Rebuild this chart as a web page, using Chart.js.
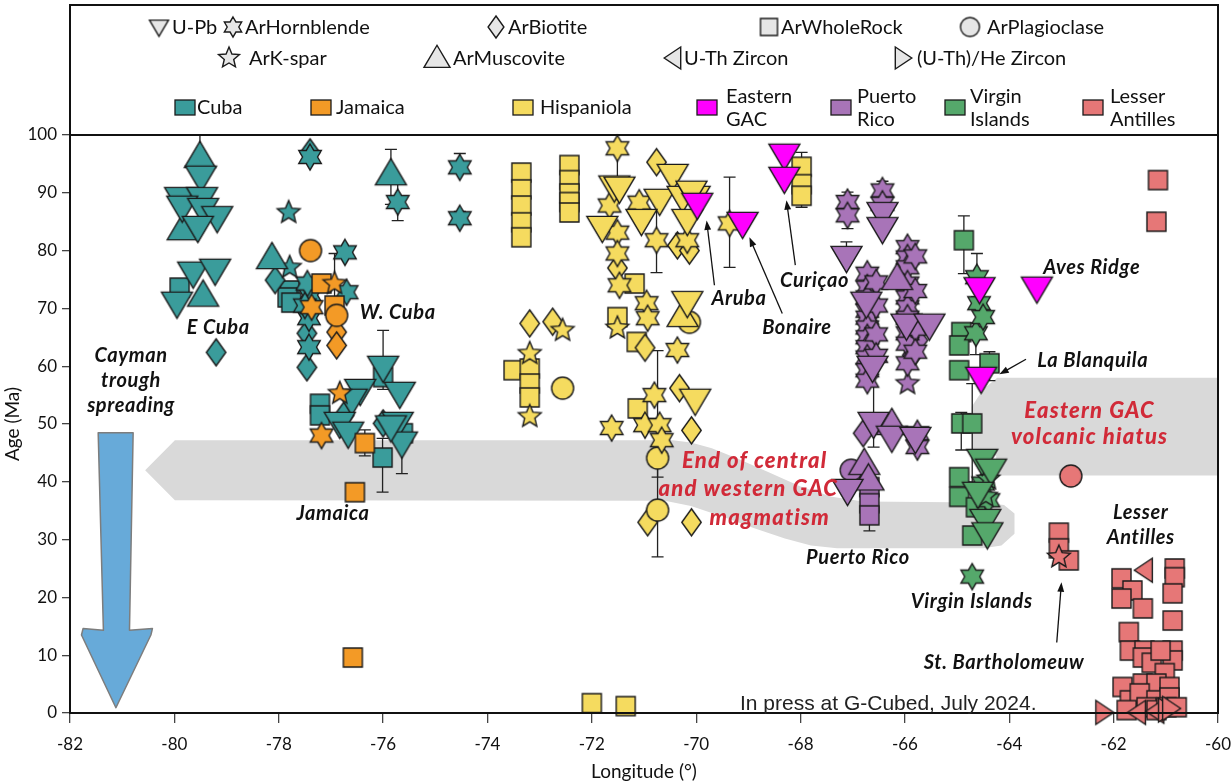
<!DOCTYPE html>
<html>
<head>
<meta charset="utf-8">
<script src="https://cdn.jsdelivr.net/npm/chart.js@4.4.1/dist/chart.umd.min.js"></script>
<style>
  html, body { margin: 0; padding: 0; background: #fff; }
  canvas { display: block; }
</style>
</head>
<body>
<canvas id="ages" width="1231" height="784"></canvas>
<script>
/* ─── Data: [longitude, age Ma] ─────────────────────────────────────────── */
// Cuba
const cubaUPb = [[-79.49,92.7],[-79.89,89.0],[-79.47,89.0],[-79.85,87.5],[-79.45,87.1],[-79.18,85.7],[-79.55,84.0],
  [-79.64,76.1],[-79.22,76.6],[-79.95,70.9],[-76.44,55.8],[-76.6,54.1],[-76.83,50.1],[-76.67,48.4],[-76.0,59.8],
  [-75.68,55.3],[-75.72,50.1],[-75.64,46.7],[-75.85,49.5]];
const cubaMusc = [[-79.51,96.3],[-79.84,83.8],[-79.45,72.3],[-78.13,78.8],[-75.85,93.3]];
const cubaHbl = [[-77.4,96.2],[-77.4,72.3],[-77.45,74.3],[-76.73,79.7],[-76.7,72.8],[-77.42,68.3],[-77.42,63.3],
  [-75.72,88.4],[-74.53,94.4],[-74.53,85.6],[-77.5,70.5]];
const cubaBio = [[-77.4,97.0],[-79.2,62.4],[-78.07,74.9],[-77.46,65.7],[-77.46,59.8],[-76.0,50.1],[-76.75,51.5]];
const cubaWR = [[-79.9,73.6],[-77.79,73.1],[-77.83,71.9],[-77.76,71.0],[-77.21,53.5],[-77.21,51.5],[-76.0,58.1],
  [-76.01,44.2],[-75.62,48.4]];
const cubaKsp = [[-77.79,77.1],[-77.81,86.6]];
// Jamaica
const jamPlag = [[-77.39,80.0],[-76.89,68.8]];
const jamWR = [[-77.18,74.3],[-76.93,70.5],[-76.35,46.7],[-76.54,38.2],[-76.58,9.6]];
const jamHbl = [[-77.37,70.2],[-77.18,48.0]];
const jamKsp = [[-76.93,74.3],[-76.83,55.3]];
const jamBio = [[-76.89,65.9],[-76.89,63.6]];
// Hispaniola
const hisWR = [[-73.35,93.5],[-73.35,90.6],[-73.35,87.8],[-73.35,84.9],[-73.35,82.3],[-72.43,94.8],[-72.43,92.2],
  [-72.43,89.9],[-72.43,88.4],[-72.43,86.6],[-73.5,59.3],[-73.19,59.6],[-73.19,57.0],[-73.19,54.6],[-71.18,74.3],
  [-71.51,68.5],[-71.14,64.2],[-71.12,52.7],[-72.0,1.7],[-71.35,1.2],[-67.98,94.5],[-67.98,91.5],[-67.98,89.5]];
const hisHbl = [[-71.51,97.7],[-71.66,87.8],[-71.09,88.3],[-71.51,83.1],[-70.76,81.8],[-70.17,81.8],[-71.51,79.5],
  [-71.47,74.0],[-70.95,70.9],[-70.93,68.3],[-70.36,62.8],[-70.8,55.0],[-71.62,49.3],[-70.98,49.8],[-70.7,49.8],
  [-70.66,47.2],[-69.36,84.7]];
const hisUPb = [[-70.45,93.0],[-71.57,91.0],[-71.47,90.8],[-70.7,88.7],[-70.26,89.2],[-70.03,89.2],[-71.05,85.2],
  [-71.8,84.0],[-70.17,85.2],[-70.17,71.0],[-70.09,90.1],[-70.02,54.1]];
const hisBio = [[-70.76,95.3],[-70.36,80.9],[-70.13,80.0],[-71.51,77.0],[-70.32,56.2],[-70.09,48.9],[-70.93,33.0],
  [-70.09,33.0],[-73.19,67.4],[-72.75,67.7],[-70.98,63.2]];
const hisPlag = [[-72.56,56.2],[-70.74,44.1],[-70.74,35.1],[-70.13,67.6]];
const hisKsp = [[-71.51,66.6],[-72.56,66.2],[-73.19,62.2],[-73.19,51.3]];
const hisMusc = [[-70.26,68.8]];
// Eastern GAC
const egacUPb = [[-69.98,88.0],[-69.11,84.7],[-68.31,96.5],[-68.31,92.5],[-64.57,73.4],[-63.47,73.5],[-64.54,57.9]];
// Puerto Rico
const prHbl = [[-67.1,88.4],[-67.1,86.1],[-66.43,90.4],[-66.43,88.1],[-66.72,76.0],[-66.72,73.6],[-66.72,71.9],
  [-66.72,69.6],[-66.72,68.4],[-66.72,66.7],[-66.72,65.0],[-66.72,63.3],[-66.72,61.5],[-66.72,59.3],[-66.72,57.5],
  [-66.55,74.5],[-66.55,70.5],[-66.55,65.5],[-66.55,61.8],[-65.95,80.6],[-65.95,78.8],[-65.95,77.1],[-65.95,74.3],
  [-65.95,71.9],[-65.95,70.2],[-65.95,68.4],[-65.95,65.7],[-65.95,63.9],[-65.95,60.5],[-65.8,79.0],[-65.8,73.0],
  [-65.8,66.5],[-65.8,62.5],[-65.76,48.4],[-65.76,46.0]];
const prUPb = [[-66.43,86.4],[-66.43,83.8],[-67.12,78.8],[-66.74,70.9],[-66.62,59.8],[-66.6,50.1],[-65.97,67.1],
  [-65.53,67.1],[-66.25,47.7],[-67.1,38.5],[-65.8,47.5]];
const prMusc = [[-66.15,75.2],[-66.25,50.1],[-66.78,43.2],[-66.7,40.5]];
const prBio = [[-65.86,61.9],[-66.8,48.4],[-65.75,64.5]];
const prKsp = [[-65.95,57.0]];
const prPlag = [[-67.03,42.0]];
const prWR = [[-66.68,39.1],[-66.68,36.3],[-66.68,34.2]];
// Virgin Islands
const viWR = [[-64.87,81.8],[-64.92,65.9],[-64.96,63.6],[-64.96,59.3],[-64.92,50.1],[-64.71,50.1],[-64.38,60.5],
  [-64.96,40.8],[-64.96,37.4],[-64.64,35.6],[-64.71,30.7]];
const viHbl = [[-64.62,75.4],[-64.58,70.9],[-64.64,65.7],[-64.71,23.6],[-64.5,39.7],[-64.4,36.8],[-64.5,68.5]];
const viUPb = [[-64.52,43.7],[-64.46,33.3],[-64.42,31.0],[-64.35,42.0],[-64.6,38.0]];
const viKsp = [[-64.4,40.5],[-64.45,37.5]];
// Lesser Antilles
const laWR = [[-61.15,92.2],[-61.18,85.0],[-63.05,31.2],[-63.05,28.5],[-62.86,26.4],[-61.85,23.3],[-61.64,21.2],
  [-61.85,19.8],[-61.44,18.1],[-60.83,25.0],[-60.83,23.5],[-60.87,20.7],[-60.87,16.0],[-61.71,14.0],[-61.69,10.8],
  [-61.41,10.8],[-61.44,9.6],[-61.27,8.7],[-60.87,10.8],[-60.87,9.1],[-61.02,6.9],[-61.44,5.1],[-61.83,4.5],
  [-61.18,5.1],[-60.93,4.5],[-61.69,2.2],[-61.5,3.4],[-61.18,2.2],[-60.93,2.7],[-61.75,0.5],[-61.37,1.0],
  [-61.18,0.5],[-60.99,1.0],[-60.79,1.0],[-61.1,10.8]];
const laPlag = [[-62.82,41.0]];
const laKsp = [[-63.05,27.0]];
const laUTh = [[-61.42,24.7],[-61.55,0.1],[-61.2,0.3]];
const laHe = [[-62.18,0.1],[-60.98,0.5],[-60.9,0.8]];

// error bars: [longitude, low, high]
const errBars = [[-79.51,93.5,100],[-75.85,88,97.5],[-75.72,85.2,91.8],[-74.53,93.5,96.8],[-74.53,84.6,86.8],
  [-76.93,70.5,79.5],[-76.0,56,66.2],[-76.01,38.2,47.5],[-75.64,41.4,51],[-76.35,44.5,49],
  [-71.51,90,98],[-70.76,76.2,87],[-69.36,77.1,92.7],[-67.98,87.5,97],[-70.74,40.8,62.7],[-70.74,27,43],
  [-67.1,83.8,90.1],[-66.43,84.5,92],[-67.12,78,81.5],[-66.6,46,59.5],[-66.68,31.5,37],
  [-64.87,76,86],[-64.62,72,79.5],[-64.64,62,67.5],[-64.38,57.5,62.5],[-64.71,40,57],[-64.92,45.5,52]];

// shaded regions and arrow outline
const gacBand = [[-80.56,42.0],[-79.99,47.2],[-70.45,47.2],[-70.1,46.8],[-69.7,45.8],[-69.2,44.0],[-68.6,41.6],
  [-68.0,39.2],[-67.4,37.4],[-66.8,36.6],[-64.5,36.4],[-64.1,36.0],[-63.9,34.5],[-63.9,31.0],[-64.15,29.0],
  [-64.5,28.5],[-67.3,28.5],[-67.8,29.0],[-68.3,30.2],[-68.9,32.0],[-69.5,34.0],[-70.1,35.8],[-70.6,36.7],
  [-79.99,36.8]];
const hiatusBand = [[-64.23,58.0],[-60,58.0],[-60,41.1],[-64.25,41.1],[-64.25,44.5],[-64.72,45.5],[-64.72,53.0],[-64.5,56.0]];
const caymanArrow = [[-81.46,48.5],[-80.79,48.5],[-80.86,14.3],[-80.42,14.6],[-80.45,13.5],[-81.12,0.9],
  [-81.78,13.5],[-81.75,14.6],[-81.36,14.3]];

// labels: [text, lon, age]
const blackLabels = [['E Cuba',-79.16,66.7],['W. Cuba',-75.72,69.3],['Cayman',-80.83,61.9],['trough',-80.83,57.5],
  ['spreading',-80.83,53.2],['Jamaica',-76.96,34.5],['Aruba',-69.18,71.7],['Bonaire',-68.07,66.7],
  ['Curiçao',-67.73,74.9],['Aves Ridge',-62.42,77.1],['La Blanquila',-62.4,61.0],['Puerto Rico',-66.9,26.9],
  ['Virgin Islands',-64.72,19.2],['St. Bartholomeuw',-64.1,8.8],['Lesser',-61.48,34.7],['Antilles',-61.48,30.4]];
const redLabels = [['End of central',-68.88,43.7],['and western GAC',-69.0,38.7],['magmatism',-68.59,33.7],
  ['Eastern GAC',-62.46,52.2],['volcanic hiatus',-62.46,47.7]];
// pointer arrows: [fromLon, fromAge, toLon, toAge]
const pointers = [[-69.65,74.0,-69.8,85.2],[-68.35,69.1,-68.98,82.3],[-68.1,77.5,-68.27,88.7],
  [-63.68,61.2,-64.19,58.6],[-63.09,12.2,-63.0,22.6]];

/* ─── Markers ───────────────────────────────────────────────────────────── */
const colors = {
  cuba: '#3a9c9b', jam: '#f39a26', his: '#f5db5f', egac: '#ff00ff',
  pr: '#a874b8', vi: '#55a86b', la: '#e67777'
};
const sizes = { down: 31, up: 31, left: 24, right: 24, hex: 26, star: 24, diamond: 27, square: 19, circle: 22 };

function makeMarker(shape, fill, size) {
  const pad = 3;
  const c = document.createElement('canvas');
  c.width = c.height = Math.ceil(size) + pad * 2;
  const g = c.getContext('2d');
  const cx = c.width / 2, cy = c.height / 2, r = size / 2;
  g.beginPath();
  if (shape === 'down') {
    g.moveTo(cx - r, cy - r * 0.72); g.lineTo(cx + r, cy - r * 0.72); g.lineTo(cx, cy + r * 0.98);
  } else if (shape === 'up') {
    g.moveTo(cx - r, cy + r * 0.72); g.lineTo(cx + r, cy + r * 0.72); g.lineTo(cx, cy - r * 0.98);
  } else if (shape === 'left') {
    g.moveTo(cx - r * 0.8, cy); g.lineTo(cx + r * 0.7, cy - r); g.lineTo(cx + r * 0.7, cy + r);
  } else if (shape === 'right') {
    g.moveTo(cx + r * 0.8, cy); g.lineTo(cx - r * 0.7, cy - r); g.lineTo(cx - r * 0.7, cy + r);
  } else if (shape === 'diamond') {
    g.moveTo(cx, cy - r); g.lineTo(cx + r * 0.72, cy); g.lineTo(cx, cy + r); g.lineTo(cx - r * 0.72, cy);
  } else if (shape === 'square') {
    g.rect(cx - r, cy - r, 2 * r, 2 * r);
  } else if (shape === 'circle') {
    g.arc(cx, cy, r, 0, Math.PI * 2);
  } else {
    const n = shape === 'hex' ? 6 : 5;
    const inner = shape === 'hex' ? r * 0.58 : r * 0.45;
    for (let i = 0; i < 2 * n; i++) {
      const a = -Math.PI / 2 + i * Math.PI / n;
      const rr = i % 2 ? inner : r;
      g.lineTo(cx + rr * Math.cos(a), cy + rr * Math.sin(a));
    }
  }
  g.closePath();
  g.fillStyle = fill;
  g.fill();
  g.lineWidth = 1.4;
  g.strokeStyle = '#1b1b1b';
  g.stroke();
  return c;
}

const series = [
  ['cuba', cubaWR, 'square'], ['cuba', cubaBio, 'diamond'], ['cuba', cubaHbl, 'hex'], ['cuba', cubaKsp, 'star'],
  ['cuba', cubaMusc, 'up'], ['cuba', cubaUPb, 'down'],
  ['jam', jamBio, 'diamond'], ['jam', jamWR, 'square'], ['jam', jamPlag, 'circle'], ['jam', jamHbl, 'hex'], ['jam', jamKsp, 'star'],
  ['his', hisWR, 'square'], ['his', hisBio, 'diamond'], ['his', hisPlag, 'circle'], ['his', hisKsp, 'star'],
  ['his', hisHbl, 'hex'], ['his', hisMusc, 'up'], ['his', hisUPb, 'down'],
  ['pr', prWR, 'square'], ['pr', prPlag, 'circle'], ['pr', prBio, 'diamond'], ['pr', prKsp, 'star'],
  ['pr', prHbl, 'hex'], ['pr', prMusc, 'up'], ['pr', prUPb, 'down'],
  ['vi', viWR, 'square'], ['vi', viHbl, 'hex'], ['vi', viKsp, 'star'], ['vi', viUPb, 'down'],
  ['la', laWR, 'square'], ['la', laPlag, 'circle'], ['la', laKsp, 'star'], ['la', laUTh, 'left'], ['la', laHe, 'right'],
  ['egac', egacUPb, 'down']
];

// later entries should sit on top, Chart.js paints index 0 last
const datasets = series.map(([region, pts, shape], i) => ({
  label: region + '-' + shape,
  data: pts.map(([x, y]) => ({ x, y })),
  pointStyle: makeMarker(shape, colors[region], sizes[shape]),
  pointRadius: 12,
  order: series.length - i,
  clip: false
}));

/* ─── Helpers ───────────────────────────────────────────────────────────── */
function polyPath(ctx, xs, ys, pts) {
  ctx.beginPath();
  pts.forEach(([lon, age], i) => {
    const px = xs.getPixelForValue(lon), py = ys.getPixelForValue(age);
    i ? ctx.lineTo(px, py) : ctx.moveTo(px, py);
  });
  ctx.closePath();
}

function arrowLine(ctx, x1, y1, x2, y2) {
  const a = Math.atan2(y2 - y1, x2 - x1), h = 10;
  ctx.beginPath();
  ctx.moveTo(x1, y1);
  ctx.lineTo(x2 - Math.cos(a) * h * 0.8, y2 - Math.sin(a) * h * 0.8);
  ctx.stroke();
  ctx.beginPath();
  ctx.moveTo(x2, y2);
  ctx.lineTo(x2 - h * Math.cos(a - 0.35), y2 - h * Math.sin(a - 0.35));
  ctx.lineTo(x2 - h * Math.cos(a + 0.35), y2 - h * Math.sin(a + 0.35));
  ctx.closePath();
  ctx.fill();
}

/* ─── Plugins ───────────────────────────────────────────────────────────── */
const underlay = {
  id: 'underlay',
  beforeDatasetsDraw(chart) {
    const { ctx, scales: { x, y } } = chart;
    ctx.save();
    ctx.fillStyle = '#d9d9d9';
    polyPath(ctx, x, y, gacBand);
    ctx.fill();
    polyPath(ctx, x, y, hiatusBand);
    ctx.fill();

    ctx.fillStyle = '#67aad9';
    ctx.strokeStyle = '#7d7d7d';
    ctx.lineWidth = 1.5;
    ctx.lineJoin = 'round';
    polyPath(ctx, x, y, caymanArrow);
    ctx.fill();
    ctx.stroke();

    ctx.strokeStyle = '#222';
    ctx.lineWidth = 1.3;
    errBars.forEach(([lon, lo, hi]) => {
      const px = x.getPixelForValue(lon);
      const p1 = y.getPixelForValue(lo), p2 = y.getPixelForValue(Math.min(hi, 100));
      ctx.beginPath();
      ctx.moveTo(px, p1); ctx.lineTo(px, p2);
      ctx.moveTo(px - 6, p1); ctx.lineTo(px + 6, p1);
      if (hi < 100) { ctx.moveTo(px - 6, p2); ctx.lineTo(px + 6, p2); }
      ctx.stroke();
    });
    ctx.restore();
  }
};

const overlay = {
  id: 'overlay',
  afterDraw(chart) {
    const { ctx, chartArea: ca, scales: { x, y } } = chart;
    ctx.save();

    // frame
    ctx.strokeStyle = '#111';
    ctx.lineWidth = 2;
    ctx.strokeRect(ca.left, 5, ca.right - ca.left, ca.bottom - 5);
    ctx.beginPath();
    ctx.moveTo(ca.left, ca.top); ctx.lineTo(ca.right, ca.top);
    ctx.stroke();

    // annotations
    ctx.textAlign = 'center';
    ctx.textBaseline = 'middle';
    ctx.fillStyle = '#111';
    ctx.font = 'italic bold 20px Lato';
    ctx.letterSpacing = '0.6px';
    blackLabels.forEach(([t, lon, age]) => ctx.fillText(t, x.getPixelForValue(lon), y.getPixelForValue(age)));
    ctx.fillStyle = '#d12a38';
    ctx.font = 'italic 900 22px Lato';
    ctx.letterSpacing = '1.2px';
    redLabels.forEach(([t, lon, age]) => ctx.fillText(t, x.getPixelForValue(lon), y.getPixelForValue(age)));
    ctx.letterSpacing = '0px';

    ctx.fillStyle = '#111';
    ctx.strokeStyle = '#111';
    ctx.lineWidth = 1.3;
    pointers.forEach(([a, b, c, d]) => arrowLine(ctx, x.getPixelForValue(a), y.getPixelForValue(b),
      x.getPixelForValue(c), y.getPixelForValue(d)));

    ctx.font = '21px "Liberation Sans", Arial';
    ctx.textAlign = 'left';
    ctx.textBaseline = 'alphabetic';
    ctx.fillStyle = '#222';
    ctx.fillText('In press at G-Cubed, July 2024.', 740, 710);

    // axis titles
    ctx.font = '19px Lato';
    ctx.fillStyle = '#111';
    ctx.textAlign = 'center';
    ctx.textBaseline = 'middle';
    ctx.fillText('Longitude (°)', (ca.left + ca.right) / 2, 772);
    ctx.translate(13, (ca.top + ca.bottom) / 2);
    ctx.rotate(-Math.PI / 2);
    ctx.fillText('Age (Ma)', 0, 0);
    ctx.restore();

    // legend
    ctx.save();
    ctx.font = '20px Lato';
    ctx.textBaseline = 'middle';
    ctx.fillStyle = '#111';
    const legGray = '#e6e6e6';
    const methods = [
      ['down', 159, 27, 19, 'U-Pb', 172], ['hex', 233, 27, 20, 'ArHornblende', 245],
      ['diamond', 496, 27, 22, 'ArBiotite', 508], ['square', 769, 27, 17, 'ArWholeRock', 781],
      ['circle', 970, 27, 19, 'ArPlagioclase', 987], ['star', 229, 58, 22, 'ArK-spar', 249],
      ['up', 437, 58, 26, 'ArMuscovite', 453], ['left', 673, 58, 22, 'U-Th Zircon', 684],
      ['right', 903, 58, 22, '(U-Th)/He Zircon', 917]
    ];
    methods.forEach(([shape, mx, my, s, text, tx]) => {
      const m = makeMarker(shape, legGray, s);
      ctx.drawImage(m, mx - m.width / 2, my - m.height / 2);
      ctx.fillText(text, tx, my + 1);
    });
    const regions = [
      ['cuba', 175, ['Cuba'], 197], ['jam', 311, ['Jamaica'], 336], ['his', 513, ['Hispaniola'], 540],
      ['egac', 697, ['Eastern', 'GAC'], 726], ['pr', 831, ['Puerto', 'Rico'], 857],
      ['vi', 945, ['Virgin', 'Islands'], 970], ['la', 1083, ['Lesser', 'Antilles'], 1110]
    ];
    regions.forEach(([reg, sx, lines, tx]) => {
      ctx.fillStyle = colors[reg];
      ctx.fillRect(sx, 100, 20, 15);
      ctx.strokeStyle = '#1b1b1b';
      ctx.lineWidth = 1.3;
      ctx.strokeRect(sx, 100, 20, 15);
      ctx.fillStyle = '#111';
      if (lines.length === 1) ctx.fillText(lines[0], tx, 108);
      else { ctx.fillText(lines[0], tx, 97); ctx.fillText(lines[1], tx, 120); }
    });
    ctx.restore();
  }
};

/* ─── Chart ─────────────────────────────────────────────────────────────── */
const tickFont = { family: 'Lato', size: 17 };
new Chart(document.getElementById('ages'), {
  type: 'scatter',
  data: { datasets },
  options: {
    responsive: false,
    animation: false,
    events: [],
    layout: { padding: { top: 135, right: 12, left: 0, bottom: 0 } },
    plugins: { legend: { display: false }, tooltip: { enabled: false } },
    scales: {
      x: {
        type: 'linear', min: -82, max: -60,
        ticks: { stepSize: 2, color: '#111', font: tickFont, padding: 11, maxRotation: 0 },
        grid: { drawOnChartArea: false, tickLength: 10, color: '#444', lineWidth: 1.3 },
        border: { color: '#111', width: 2 },
        afterFit: s => { s.height = 71; s.paddingLeft = 0; s.paddingRight = 0; }
      },
      y: {
        type: 'linear', min: 0, max: 100,
        ticks: { stepSize: 10, color: '#111', font: tickFont, padding: 5 },
        grid: { drawOnChartArea: false, tickLength: 8, color: '#444', lineWidth: 1.3 },
        border: { color: '#111', width: 2 },
        afterFit: s => { s.width = 70; s.paddingTop = 0; s.paddingBottom = 0; }
      }
    }
  },
  plugins: [underlay, overlay]
});
</script>
</body>
</html>
